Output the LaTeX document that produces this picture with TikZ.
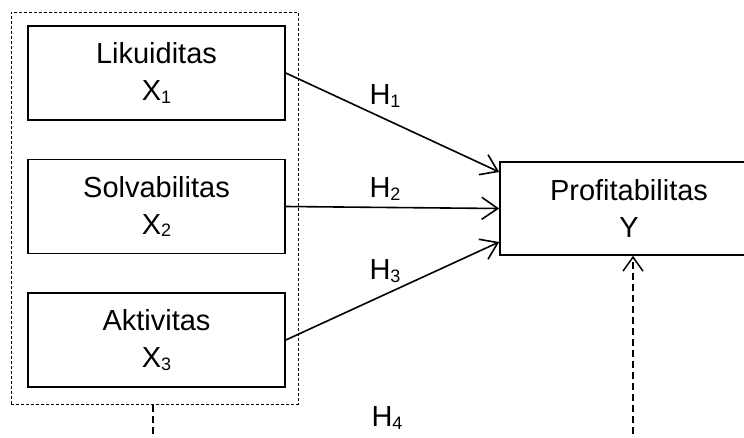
\documentclass[tikz,border=0pt]{standalone}
\usepackage{fontspec}
\setmainfont{Liberation Sans}
\usetikzlibrary{arrows.meta}
% small lowered digit used as an index
\newcommand{\idx}[1]{\raisebox{-2.5pt}{\fontsize{18}{18}\selectfont #1}}
\begin{document}
\begin{tikzpicture}[x=1pt,y=-1pt,
  txt/.style={font=\fontsize{29}{37}\selectfont, align=center, inner sep=0pt},
  var/.style={txt, draw, line width=1.6pt, minimum width=257pt, minimum height=94pt},
  group/.style={draw, line width=1pt, dash pattern=on 3pt off 2pt, minimum width=287pt, minimum height=392pt, inner sep=0pt},
  link/.style={line width=1.6pt, -{Straight Barb[length=16pt,width=22pt,line width=1.6pt]}},
  dlink/.style={line width=1.5pt, dash pattern=on 7pt off 4pt},
  lbl/.style={txt}
]
\useasboundingbox (0,0) rectangle (744,437);
\begin{scope}
\clip (0,0) rectangle (744,437);

% independent variables
\node[var] (liq) at (156.5,73)  {Likuiditas\\X\idx{1}};
\node[var] (sol) at (156.5,206.5) {Solvabilitas\\X\idx{2}};
\node[var] (akt) at (156.5,340) {Aktivitas\\X\idx{3}};
\node[group] (grp) at (154.5,208) {};

% dependent variable
\node[var, minimum width=258pt, minimum height=93pt] (prof) at (629,208.5) {Profitabilitas\\Y};

% partial effects
\draw[link] (liq.east) -- ([yshift=36.5pt]prof.west);
\draw[link] (sol.east) -- (prof.west);
\draw[link] (akt.east) -- ([yshift=-33.5pt]prof.west);

% simultaneous effect
\coordinate (g) at (153,445);
\coordinate (p) at (633,445);
\draw[dlink] (grp.south -| g) -- (g);
\draw[dlink, -{Straight Barb[length=14pt,width=20pt,line width=1.5pt]}] (p) -- (prof.south -| p);

% hypothesis labels
\node[lbl] (h1) at (385,96)  {H\idx{1}};
\node[lbl] (h2) at (385,189) {H\idx{2}};
\node[lbl] (h3) at (385,271) {H\idx{3}};
\node[lbl] (h4) at (387,418) {H\idx{4}};
\end{scope}
\end{tikzpicture}
\end{document}
